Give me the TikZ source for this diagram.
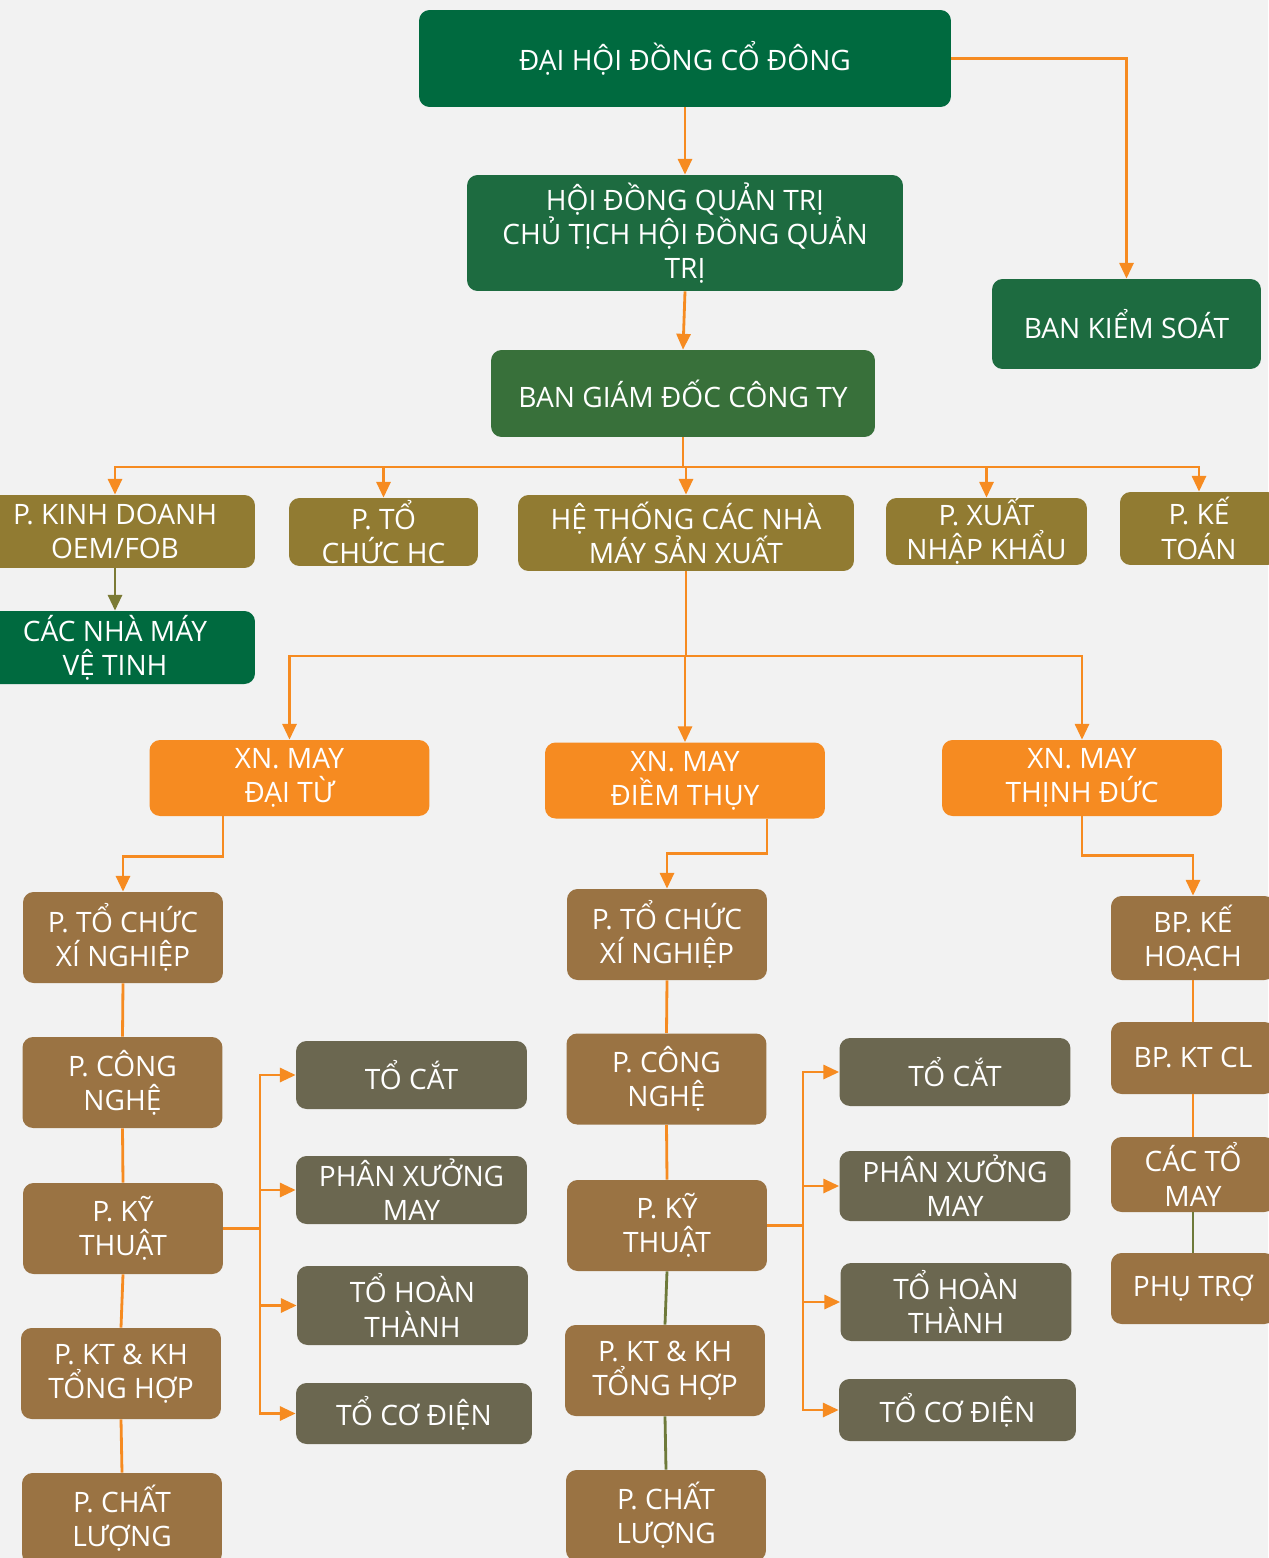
\documentclass[tikz,border=0pt]{standalone}
\usepackage{fontspec}
\setmainfont{Open Sans}
\usetikzlibrary{arrows.meta}
\definecolor{bgcol}{HTML}{F2F2F2}
\definecolor{darkgreen}{HTML}{006A3F}
\definecolor{midgreen}{HTML}{1D6B40}
\definecolor{lightgreen}{HTML}{38703A}
\definecolor{olivebox}{HTML}{917B32}
\definecolor{orangebox}{HTML}{F68B21}
\definecolor{brownbox}{HTML}{9A7343}
\definecolor{graybox}{HTML}{6B6750}
\definecolor{lineorange}{HTML}{F68B21}
\definecolor{lineolive}{HTML}{7B7A35}
\definecolor{linegreen}{HTML}{6E7A3A}
\begin{document}
\begin{tikzpicture}[x=0.02cm,y=-0.02cm,
    box/.style={rounded corners=6pt,text=white,align=center,inner sep=0pt,
      font=\fontsize{16}{19.5}\selectfont},
    board/.style={box,fill=darkgreen},
    council/.style={box,fill=midgreen},
    direct/.style={box,fill=lightgreen},
    dept/.style={box,fill=olivebox},
    plant/.style={box,fill=orangebox,minimum width=5.6cm,minimum height=1.52cm},
    office/.style={box,fill=brownbox,minimum width=4cm,minimum height=1.82cm},
    unit/.style={box,fill=brownbox,minimum width=3.28cm},
    team/.style={box,fill=graybox,minimum width=4.62cm},
    link/.style={draw=lineorange,line width=1.6pt},
    arr/.style={link,-{Triangle[length=9pt,width=8pt]}}]
  \fill[bgcol] (0,0) rectangle (1268,1558);
  \useasboundingbox (0,0) rectangle (1268,1558);

  \node[board,minimum width=10.64cm,minimum height=1.94cm] (dhd) at (685,58.5) {ĐẠI HỘI ĐỒNG CỔ ĐÔNG};
  \node[council,minimum width=8.72cm,minimum height=2.32cm] (hdqt) at (685,233) {HỘI ĐỒNG QUẢN TRỊ\\CHỦ TỊCH HỘI ĐỒNG QUẢN\\TRỊ};
  \node[council,minimum width=5.38cm,minimum height=1.8cm] (bks) at (1126.5,324) {BAN KIỂM SOÁT};
  \node[direct,minimum width=7.68cm,minimum height=1.74cm] (bgd) at (683,393.5) {BAN GIÁM ĐỐC CÔNG TY};

  \node[dept,minimum width=5.6cm,minimum height=1.46cm] (kd) at (115,531.5) {P. KINH DOANH\\OEM/FOB};
  \node[dept,minimum width=3.78cm,minimum height=1.36cm] (tchc) at (383.5,532) {P. TỔ\\CHỨC HC};
  \node[dept,minimum width=6.72cm,minimum height=1.52cm] (htnm) at (686,533) {HỆ THỐNG CÁC NHÀ\\MÁY SẢN XUẤT};
  \node[dept,minimum width=4.02cm,minimum height=1.34cm] (xnk) at (986.5,531.5) {P. XUẤT\\NHẬP KHẨU};
  \node[dept,minimum width=3.16cm,minimum height=1.46cm] (ketoan) at (1199,528.5) {P. KẾ\\TOÁN};
  \node[board,minimum width=5.6cm,minimum height=1.46cm] (vetinh) at (115,647.5) {CÁC NHÀ MÁY\\VỆ TINH};

  \node[plant] (daitu) at (289.5,778) {XN. MAY\\ĐẠI TỪ};
  \node[plant] (diemthuy) at (685,780.5) {XN. MAY\\ĐIỀM THỤY};
  \node[plant] (thinhduc) at (1082,778) {XN. MAY\\THỊNH ĐỨC};

  \node[office] (tcA) at (123,937.5) {P. TỔ CHỨC\\XÍ NGHIỆP};
  \node[office] (cnA) at (122.5,1082.5) {P. CÔNG\\NGHỆ};
  \node[office] (ktA) at (123,1228.5) {P. KỸ\\THUẬT};
  \node[office] (khA) at (121,1373.5) {P. KT \& KH\\TỔNG HỢP};
  \node[office] (clA) at (122,1518.5) {P. CHẤT\\LƯỢNG};

  \node[team,minimum height=1.36cm] (catA) at (411.5,1075) {TỔ CẮT};
  \node[team,minimum height=1.36cm] (pxA) at (411.5,1190) {PHÂN XƯỞNG\\MAY};
  \node[team,minimum height=1.58cm] (htA) at (412.5,1305.5) {TỔ HOÀN\\THÀNH};
  \node[team,minimum width=4.72cm,minimum height=1.22cm] (cdA) at (414,1413.5) {TỔ CƠ ĐIỆN};

  \node[office] (tcB) at (667,934.5) {P. TỔ CHỨC\\XÍ NGHIỆP};
  \node[office] (cnB) at (666.5,1079) {P. CÔNG\\NGHỆ};
  \node[office] (ktB) at (667,1225.5) {P. KỸ\\THUẬT};
  \node[office] (khB) at (665,1370.5) {P. KT \& KH\\TỔNG HỢP};
  \node[office] (clB) at (666,1515.5) {P. CHẤT\\LƯỢNG};

  \node[team,minimum height=1.36cm] (catB) at (955,1072) {TỔ CẮT};
  \node[team,minimum height=1.4cm] (pxB) at (955,1186) {PHÂN XƯỞNG\\MAY};
  \node[team,minimum height=1.56cm] (htB) at (956,1302) {TỔ HOÀN\\THÀNH};
  \node[team,minimum width=4.74cm,minimum height=1.24cm] (cdB) at (957.5,1410) {TỔ CƠ ĐIỆN};

  \node[unit,minimum height=1.68cm] (khC) at (1193,938) {BP. KẾ\\HOẠCH};
  \node[unit,minimum height=1.44cm] (ktclC) at (1193,1058) {BP. KT CL};
  \node[unit,minimum height=1.5cm] (tmC) at (1193,1174.5) {CÁC TỔ\\MAY};
  \node[unit,minimum height=1.42cm] (ptC) at (1193,1288.5) {PHỤ TRỢ};

  \coordinate (busTop) at (683,467);
  \coordinate (busPlant) at (686,656);
  \coordinate (fanA) at (260,1228.5);
  \coordinate (fanB) at (803,1225.5);

  \draw[arr] (dhd) -- (hdqt);
  \draw[arr] (dhd.east) -| (bks.north);
  \draw[arr] (hdqt.south) -- (bgd.north);
  \draw[link] (bgd.south) -- (busTop);
  \draw[arr] (busTop) -| (kd.north);
  \draw[arr] (busTop) -| (tchc.north);
  \draw[arr] (busTop) -| (htnm.north);
  \draw[arr] (busTop) -| (xnk.north);
  \draw[arr] (busTop) -| (ketoan.north);
  \draw[arr,draw=lineolive] (kd) -- (vetinh);

  \draw[link] (htnm.south) -- (busPlant);
  \draw[arr] (busPlant) -| (daitu.north);
  \draw[arr] (busPlant) -| (diemthuy.north);
  \draw[arr] (busPlant) -| (thinhduc.north);

  \draw[arr] ([xshift=-1.33cm]daitu.south) -- ++(0,40) -| (tcA.north);
  \draw[arr] ([xshift=1.64cm]diemthuy.south) -- ++(0,35) -| (tcB.north);
  \draw[arr] (thinhduc.south) -- ++(0,39) -| (khC.north);

  \draw[link] (tcA.south) -- (cnA.north);
  \draw[link] (cnA.south) -- (ktA.north);
  \draw[link] (ktA.south) -- (khA.north);
  \draw[link] (khA.south) -- (clA.north);
  \draw[link] (tcB.south) -- (cnB.north);
  \draw[link] (cnB.south) -- (ktB.north);
  \draw[link,draw=linegreen] (ktB.south) -- (khB.north);
  \draw[link,draw=linegreen] (khB.south) -- (clB.north);
  \draw[link] (khC.south) -- (ktclC.north);
  \draw[link] (ktclC.south) -- (tmC.north);
  \draw[link,draw=linegreen] (tmC.south) -- (ptC.north);

  \draw[link] (ktA.east) -- (fanA);
  \draw[arr] (fanA) |- (catA.west);
  \draw[arr] (fanA) |- (pxA.west);
  \draw[arr] (fanA) |- (htA.west);
  \draw[arr] (fanA) |- (cdA.west);
  \draw[link] (ktB.east) -- (fanB);
  \draw[arr] (fanB) |- (catB.west);
  \draw[arr] (fanB) |- (pxB.west);
  \draw[arr] (fanB) |- (htB.west);
  \draw[arr] (fanB) |- (cdB.west);
\end{tikzpicture}
\end{document}
